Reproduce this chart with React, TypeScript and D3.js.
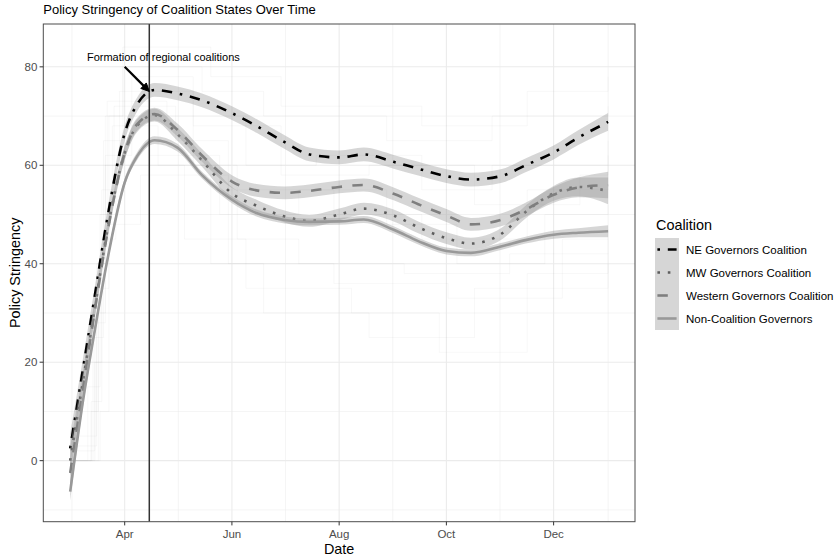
import React from 'react';
import * as d3 from 'd3';

// ---------- data ----------
const sampleDates = [
  '2020-03-01', '2020-03-08', '2020-03-15', '2020-03-22', '2020-04-01', '2020-04-08',
  '2020-04-18', '2020-05-01', '2020-05-15', '2020-06-01', '2020-06-15', '2020-07-01',
  '2020-07-15', '2020-08-01', '2020-08-15', '2020-09-01', '2020-09-15', '2020-10-01',
  '2020-10-15', '2020-11-01', '2020-11-15', '2020-12-01', '2020-12-15', '2021-01-01',
];
const neValues = [2.5, 18.0, 33.5, 49.0, 66.5, 72.3, 75.3, 74.6, 73.2, 70.6, 68.0, 64.7, 62.2, 61.6, 62.2, 60.7, 59.3, 57.8, 57.1, 57.8, 60.0, 62.6, 65.6, 68.8];
const mwValues = [0.0, 15.5, 31.0, 46.5, 62.5, 68.0, 70.2, 66.3, 61.0, 54.3, 51.8, 49.6, 48.7, 50.0, 51.2, 49.8, 47.4, 45.2, 44.1, 46.0, 50.5, 54.3, 55.6, 54.8];
const westValues = [-2.5, 14.0, 30.5, 46.0, 62.5, 68.3, 70.4, 67.2, 62.0, 56.7, 54.9, 54.4, 54.8, 55.6, 56.0, 54.2, 52.1, 49.8, 48.0, 48.9, 51.0, 54.0, 55.5, 56.0];
const nonValues = [-6.3, 11.5, 26.5, 40.5, 56.5, 61.8, 65.1, 63.6, 58.0, 53.0, 50.3, 48.9, 48.5, 48.6, 49.0, 46.9, 44.6, 42.6, 42.2, 43.5, 44.8, 45.9, 46.3, 46.6];

const neSe = [3.0, 2.2, 1.8, 1.6, 1.5, 1.4, 1.4, 1.4, 1.4, 1.4, 1.4, 1.4, 1.4, 1.4, 1.4, 1.4, 1.4, 1.4, 1.4, 1.4, 1.4, 1.4, 1.5, 1.8];
const mwSe = [3.0, 2.2, 1.8, 1.5, 1.4, 1.3, 1.3, 1.3, 1.3, 1.3, 1.2, 1.2, 1.2, 1.2, 1.2, 1.2, 1.2, 1.2, 1.2, 1.2, 1.3, 1.5, 1.9, 2.7];
const westSe = [3.0, 2.2, 1.8, 1.5, 1.4, 1.3, 1.3, 1.3, 1.3, 1.3, 1.3, 1.3, 1.3, 1.3, 1.3, 1.3, 1.3, 1.3, 1.3, 1.3, 1.4, 1.6, 2.0, 2.7];
const nonSe = [1.8, 1.3, 1.0, 0.9, 0.8, 0.8, 0.8, 0.8, 0.7, 0.7, 0.7, 0.7, 0.7, 0.7, 0.7, 0.7, 0.7, 0.7, 0.7, 0.7, 0.7, 0.8, 0.9, 1.2];

const seriesNames = ['NE Governors Coalition', 'MW Governors Coalition', 'Western Governors Coalition', 'Non-Coalition Governors'];
const seriesColors = ['#000000', '#5D5D5D', '#7F7F7F', '#999999'];
const seriesLinetypes = ['dotdash', 'dotted', 'dashed', 'solid'];

// faint state-level step traces (day offset from 2020-03-01, stringency)
const stateA = [[0, 0], [12, 10], [16, 40], [20, 70], [30, 80], [75, 75], [110, 70], [180, 65], [240, 70], [306, 72]];
const stateB = [[0, 0], [14, 20], [18, 55], [25, 72], [60, 65], [90, 55], [150, 50], [200, 45], [260, 55], [306, 60]];
const stateC = [[0, 5], [15, 30], [20, 60], [28, 75], [70, 60], [95, 45], [130, 40], [190, 38], [250, 42], [306, 45]];
const stateD = [[0, 0], [10, 15], [17, 50], [24, 68], [50, 60], [80, 40], [110, 30], [170, 25], [230, 35], [306, 40]];
const stateE = [[0, 0], [13, 25], [19, 65], [30, 84], [80, 78], [120, 72], [200, 68], [260, 75], [306, 78]];
const stateF = [[0, 0], [16, 35], [22, 70], [45, 62], [85, 50], [130, 55], [180, 48], [220, 40], [270, 50], [306, 52]];
const stateG = [[0, 0], [12, 12], [18, 45], [26, 60], [65, 45], [100, 35], [160, 30], [210, 22], [260, 38], [306, 42]];
const stateH = [[0, 3], [15, 40], [21, 73], [55, 70], [100, 60], [140, 62], [200, 55], [240, 60], [306, 65]];
const stateI = [[0, 0], [17, 10], [22, 48], [40, 58], [90, 40], [150, 36], [215, 33], [280, 45], [306, 47]];
const stateJ = [[0, 2], [14, 28], [20, 62], [35, 78], [70, 68], [120, 58], [170, 60], [230, 52], [290, 58], [306, 62]];
const stateTraces = [stateA, stateB, stateC, stateD, stateE, stateF, stateG, stateH, stateI, stateJ];

const xTickDates = ['2020-04-01', '2020-06-01', '2020-08-01', '2020-10-01', '2020-12-01'];
const xOuterDates = ['2020-02-01', '2021-02-01'];
const yTicks = [0, 20, 40, 60, 80];
const yMinor = [-10, 10, 30, 50, 70];

const dataStart = '2020-03-01';
const dataEnd = '2021-01-01';
const coalitionDate = '2020-04-15';
const annotationText = 'Formation of regional coalitions';
const annotationAt = { date: '2020-04-23', value: 82 };
const arrowFrom = { date: '2020-04-01', value: 80 };
const arrowTo = { date: '2020-04-15', value: 75 };
const yDomain = [-12.4, 88.7];

// ---------- layout ----------
const W = 836, H = 558;
const px0 = 43.3, px1 = 635, py0 = 24, py1 = 521.7;
const FONT = '"Liberation Sans", Arial, Helvetica, sans-serif';
const LW = 2.6;

const parse = d3.utcParse('%Y-%m-%d');

function dashFor(t: string, lw: number): string | undefined {
  if (t === 'dotdash') return [1, 3, 4, 3].map(v => v * lw).join(' ');
  if (t === 'dotted') return [1, 3].map(v => v * lw).join(' ');
  if (t === 'dashed') return [4, 4].map(v => v * lw).join(' ');
  return undefined;
}

export default function App() {
  const t0 = parse(dataStart)!;
  const t1 = parse(dataEnd)!;
  const span = t1.getTime() - t0.getTime();
  const x = d3.scaleUtc()
    .domain([new Date(t0.getTime() - 0.05 * span), new Date(t1.getTime() + 0.05 * span)])
    .range([px0, px1]);
  const y = d3.scaleLinear().domain(yDomain).range([py1, py0]);

  const dates = sampleDates.map(d => parse(d)!);
  const valueSets = [neValues, mwValues, westValues, nonValues];
  const seSets = [neSe, mwSe, westSe, nonSe];

  const lineGen = d3.line<[Date, number]>()
    .x(d => x(d[0]))
    .y(d => y(d[1]))
    .curve(d3.curveMonotoneX);
  const areaGen = d3.area<[Date, number, number]>()
    .x(d => x(d[0]))
    .y0(d => y(d[1]))
    .y1(d => y(d[2]))
    .curve(d3.curveMonotoneX);
  const stepGen = d3.line<number[]>()
    .x(d => x(d3.utcDay.offset(t0, d[0])))
    .y(d => y(d[1]))
    .curve(d3.curveStepAfter);

  const majorX = xTickDates.map(d => parse(d)!);
  const allMajor = [parse(xOuterDates[0])!, ...majorX, parse(xOuterDates[1])!];
  const minorX: Date[] = [];
  for (let i = 0; i < allMajor.length - 1; i++) {
    minorX.push(new Date((allMajor[i].getTime() + allMajor[i + 1].getTime()) / 2));
  }
  const fmt = d3.utcFormat('%b');

  const vx = x(parse(coalitionDate)!);
  const ax0 = x(parse(arrowFrom.date)!), ay0 = y(arrowFrom.value);
  const ax1 = x(parse(arrowTo.date)!), ay1 = y(arrowTo.value);
  const ang = Math.atan2(ay1 - ay0, ax1 - ax0);
  const headLen = 9, headHalf = Math.PI / 7;
  const hp1 = [ax1 - headLen * Math.cos(ang - headHalf), ay1 - headLen * Math.sin(ang - headHalf)];
  const hp2 = [ax1 - headLen * Math.cos(ang + headHalf), ay1 - headLen * Math.sin(ang + headHalf)];
  const shaftEnd = [ax1 - headLen * 0.8 * Math.cos(ang), ay1 - headLen * 0.8 * Math.sin(ang)];

  // legend
  const legX = 655, legTitleY = 230, keyTop = 238, keyW = 24, keyH = 23;

  return (
    <div style={{ position: 'absolute', left: 0, top: 0 }}>
      <svg width={W} height={H} viewBox={`0 0 ${W} ${H}`} style={{ display: 'block', background: '#fff' }} fontFamily={FONT}>
        <defs>
          <clipPath id="panel">
            <rect x={px0} y={py0} width={px1 - px0} height={py1 - py0} />
          </clipPath>
        </defs>
        <rect x={0} y={0} width={W} height={H} fill="#fff" />
        {/* grid */}
        <g>
          {yMinor.map(v => (
            <line key={'ym' + v} x1={px0} x2={px1} y1={y(v)} y2={y(v)} stroke="#ebebeb" strokeWidth={0.55} />
          ))}
          {minorX.map((d, i) => (
            <line key={'xm' + i} x1={x(d)} x2={x(d)} y1={py0} y2={py1} stroke="#ebebeb" strokeWidth={0.55} />
          ))}
          {yTicks.map(v => (
            <line key={'yM' + v} x1={px0} x2={px1} y1={y(v)} y2={y(v)} stroke="#ebebeb" strokeWidth={1.07} />
          ))}
          {majorX.map((d, i) => (
            <line key={'xM' + i} x1={x(d)} x2={x(d)} y1={py0} y2={py1} stroke="#ebebeb" strokeWidth={1.07} />
          ))}
        </g>
        <g clipPath="url(#panel)">
          {/* faint state traces */}
          {stateTraces.map((s, i) => (
            <path key={'st' + i} d={stepGen(s) || ''} fill="none" stroke="#a0a0a0" strokeOpacity={0.1} strokeWidth={0.8} />
          ))}
          {/* smooths */}
          {valueSets.map((vals, si) => {
            const ribbon = dates.map((d, i) => [d, vals[i] - seSets[si][i], vals[i] + seSets[si][i]] as [Date, number, number]);
            const pts = dates.map((d, i) => [d, vals[i]] as [Date, number]);
            return (
              <g key={'s' + si}>
                <path d={areaGen(ribbon) || ''} fill="#999999" fillOpacity={0.4} stroke="none" />
                <path d={lineGen(pts) || ''} fill="none" stroke={seriesColors[si]} strokeWidth={LW}
                  strokeDasharray={dashFor(seriesLinetypes[si], LW)} strokeLinecap="butt" />
              </g>
            );
          })}
          {/* vertical line */}
          <line x1={vx} x2={vx} y1={py0} y2={py1} stroke="#333" strokeWidth={1.5} />
          {/* annotation */}
          <text x={x(parse(annotationAt.date)!)} y={y(annotationAt.value)} dy="0.35em" textAnchor="middle" fontSize={11} fill="#000">{annotationText}</text>
          <line x1={ax0} y1={ay0} x2={shaftEnd[0]} y2={shaftEnd[1]} stroke="#000" strokeWidth={2.2} />
          <polygon points={`${ax1},${ay1} ${hp1[0]},${hp1[1]} ${hp2[0]},${hp2[1]}`} fill="#000" stroke="#000" strokeWidth={1} />
        </g>
        {/* panel border */}
        <rect x={px0} y={py0} width={px1 - px0} height={py1 - py0} fill="none" stroke="#4d4d4d" strokeWidth={1} />
        {/* axes */}
        <g>
          {yTicks.map(v => (
            <g key={'yt' + v}>
              <line x1={px0 - 3.7} x2={px0} y1={y(v)} y2={y(v)} stroke="#333" strokeWidth={1} />
              <text x={px0 - 6} y={y(v)} dy="0.36em" textAnchor="end" fontSize={11.5} fill="#4d4d4d">{v}</text>
            </g>
          ))}
          {majorX.map((d, i) => (
            <g key={'xt' + i}>
              <line x1={x(d)} x2={x(d)} y1={py1} y2={py1 + 3.7} stroke="#333" strokeWidth={1} />
              <text x={x(d)} y={537.5} textAnchor="middle" fontSize={11.5} fill="#4d4d4d">{fmt(d)}</text>
            </g>
          ))}
        </g>
        <text x={(px0 + px1) / 2} y={554} textAnchor="middle" fontSize={14.4} fill="#000">Date</text>
        <text transform={`translate(20,${(py0 + py1) / 2}) rotate(-90)`} textAnchor="middle" fontSize={14.4} fill="#000">Policy Stringency</text>
        <text x={43.3} y={14} fontSize={13} fill="#000">Policy Stringency of Coalition States Over Time</text>
        {/* legend */}
        <g>
          <text x={legX + 1} y={legTitleY} fontSize={14.4} fill="#000">Coalition</text>
          {seriesNames.map((name, i) => {
            const ky = keyTop + i * keyH;
            return (
              <g key={'lg' + i}>
                <rect x={legX} y={ky} width={keyW} height={keyH} fill="#999999" fillOpacity={0.4} />
                <line x1={legX + keyW * 0.1} x2={legX + keyW * 0.9} y1={ky + keyH / 2} y2={ky + keyH / 2}
                  stroke={seriesColors[i]} strokeWidth={LW} strokeDasharray={dashFor(seriesLinetypes[i], LW)} />
                <text x={686} y={ky + keyH / 2} dy="0.36em" fontSize={11.5} fill="#000">{name}</text>
              </g>
            );
          })}
        </g>
      </svg>
    </div>
  );
}
